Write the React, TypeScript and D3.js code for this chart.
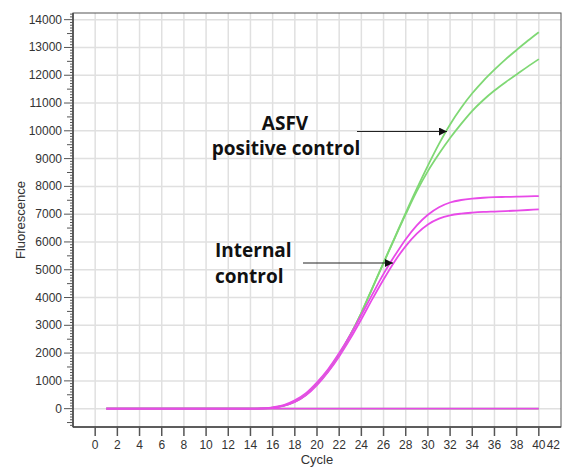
import * as d3 from "d3";

// cycles 1..40
const cycles = d3.range(1, 41);

// green: ASFV positive control (two replicates)
const asfvHigh = [
  0, 0, 0, 0, 0, 0, 0, 0, 0, 0, 0, 0, 0, 0, 10, 40, 110, 250, 500, 900,
  1350, 1950, 2650, 3450, 4350, 5250, 6150, 7050, 7920, 8750, 9530, 10230,
  10830, 11350, 11800, 12200, 12570, 12910, 13240, 13550,
];
const asfvLow = [
  0, 0, 0, 0, 0, 0, 0, 0, 0, 0, 0, 0, 0, 0, 10, 40, 110, 250, 500, 900,
  1350, 1950, 2650, 3450, 4350, 5250, 6130, 7000, 7830, 8550, 9170, 9740,
  10250, 10720, 11110, 11450, 11750, 12030, 12310, 12580,
];
// magenta: internal control
const icHigh = [
  0, 0, 0, 0, 0, 0, 0, 0, 0, 0, 0, 0, 0, 0, 10, 50, 130, 300, 560, 950,
  1420, 2000, 2650, 3370, 4120, 4850, 5500, 6100, 6600, 6980, 7250, 7420,
  7510, 7560, 7590, 7610, 7620, 7630, 7640, 7650,
];
const icLow = [
  0, 0, 0, 0, 0, 0, 0, 0, 0, 0, 0, 0, 0, 0, 5, 30, 100, 240, 480, 850,
  1320, 1880, 2520, 3220, 3950, 4650, 5300, 5850, 6300, 6630, 6840, 6960,
  7020, 7055, 7080, 7095, 7110, 7130, 7150, 7170,
];
const negative = cycles.map(() => 0);

const xTicks = d3.range(0, 43, 2);
const yTicks = d3.range(0, 14001, 1000);
const yMinor = d3.range(-600, 14201, 100);

const GREEN = "#7fd874";
const MAGENTA = "#e84ae8";
const FONT = "'Liberation Sans', Arial, sans-serif";
const LABEL_FONT = "'Open Sans', 'Liberation Sans', sans-serif";

export default function App() {
  const width = 565;
  const height = 468;
  const left = 73;
  const right = 561;
  const top = 13;
  const bottom = 427;

  const x = d3.scaleLinear().domain([-2, 42]).range([left, right]);
  const y = d3.scaleLinear().domain([-660, 14240]).range([bottom, top]);

  const line = d3
    .line<number>()
    .x((_, i) => x(cycles[i]))
    .y((d) => y(d))
    .curve(d3.curveMonotoneX);

  const series = [
    { values: negative, color: GREEN },
    { values: asfvLow, color: GREEN },
    { values: asfvHigh, color: GREEN },
    { values: icLow, color: MAGENTA },
    { values: icHigh, color: MAGENTA },
    { values: negative, color: MAGENTA },
  ];

  return (
    <svg
      width={width}
      height={height}
      style={{ position: "absolute", left: 0, top: 0, background: "#fff" }}
    >
      <defs>
        <marker
          id="head"
          viewBox="0 0 10 10"
          refX="10"
          refY="5"
          markerWidth="8"
          markerHeight="8"
          markerUnits="userSpaceOnUse"
          orient="auto"
        >
          <path d="M0,0 L10,5 L0,10 z" fill="#111" />
        </marker>
      </defs>

      {/* grid */}
      {xTicks
        .filter((t) => t <= 40)
        .map((t) => (
          <line
            key={"gx" + t}
            x1={x(t)}
            x2={x(t)}
            y1={top}
            y2={bottom}
            stroke="#e0e0e0"
            strokeWidth={1.5}
          />
        ))}
      {yTicks.map((t) => (
        <line
          key={"gy" + t}
          x1={left}
          x2={right}
          y1={y(t)}
          y2={y(t)}
          stroke="#e0e0e0"
          strokeWidth={1.5}
        />
      ))}

      {/* frame */}
      <rect
        x={left}
        y={top}
        width={right - left}
        height={bottom - top}
        fill="none"
        stroke="#555"
        strokeWidth={1}
      />

      {/* curves */}
      {series.map((s, i) => (
        <path
          key={i}
          d={line(s.values) ?? ""}
          fill="none"
          stroke={s.color}
          strokeWidth={1.8}
        />
      ))}

      {/* y axis */}
      <line x1={left} x2={left} y1={top} y2={bottom} stroke="#444" strokeWidth={1.5} />
      {yMinor.map((t) => {
        const len = t % 1000 === 0 ? 9 : t % 500 === 0 ? 6 : 3;
        return (
          <line
            key={"ym" + t}
            x1={left - len}
            x2={left}
            y1={y(t)}
            y2={y(t)}
            stroke="#555"
            strokeWidth={1}
          />
        );
      })}
      {yTicks.map((t) => (
        <text
          key={"yl" + t}
          x={left - 11}
          y={y(t)}
          textAnchor="end"
          dominantBaseline="central"
          fontFamily={FONT}
          fontSize={12}
          fill="#333"
        >
          {t}
        </text>
      ))}

      {/* x axis */}
      <line x1={left} x2={right} y1={bottom} y2={bottom} stroke="#444" strokeWidth={1.5} />
      {xTicks
        .filter((t) => t <= 40)
        .map((t) => (
          <line
            key={"xt" + t}
            x1={x(t)}
            x2={x(t)}
            y1={bottom}
            y2={bottom + 9}
            stroke="#555"
            strokeWidth={1.5}
          />
        ))}
      {xTicks.map((t) => (
        <text
          key={"xl" + t}
          x={t === 42 ? x(t) - 1 : x(t)}
          y={bottom + 18}
          textAnchor={t === 42 ? "end" : "middle"}
          dominantBaseline="central"
          fontFamily={FONT}
          fontSize={12}
          fill="#333"
        >
          {t}
        </text>
      ))}

      <text
        x={(left + right) / 2}
        y={459}
        textAnchor="middle"
        dominantBaseline="central"
        fontFamily={FONT}
        fontSize={13}
        fill="#333"
      >
        Cycle
      </text>
      <text
        transform={`translate(20, 220) rotate(-90)`}
        textAnchor="middle"
        dominantBaseline="central"
        fontFamily={FONT}
        fontSize={13}
        fill="#333"
      >
        Fluorescence
      </text>

      {/* annotations */}
      <text
        x={285}
        y={130}
        textAnchor="middle"
        fontFamily={LABEL_FONT}
        fontWeight="bold"
        fontSize={19}
        fill="#111"
      >
        ASFV
      </text>
      <text
        x={286}
        y={155}
        textAnchor="middle"
        fontFamily={LABEL_FONT}
        fontWeight="bold"
        fontSize={19}
        fill="#111"
      >
        positive control
      </text>
      <line
        x1={357}
        x2={447}
        y1={131.5}
        y2={131.5}
        stroke="#222"
        strokeWidth={1}
        markerEnd="url(#head)"
      />

      <text
        x={215}
        y={257}
        fontFamily={LABEL_FONT}
        fontWeight="bold"
        fontSize={19}
        fill="#111"
      >
        Internal
      </text>
      <text
        x={215}
        y={283}
        fontFamily={LABEL_FONT}
        fontWeight="bold"
        fontSize={19}
        fill="#111"
      >
        control
      </text>
      <line
        x1={303}
        x2={393}
        y1={263}
        y2={263}
        stroke="#222"
        strokeWidth={1}
        markerEnd="url(#head)"
      />
    </svg>
  );
}
